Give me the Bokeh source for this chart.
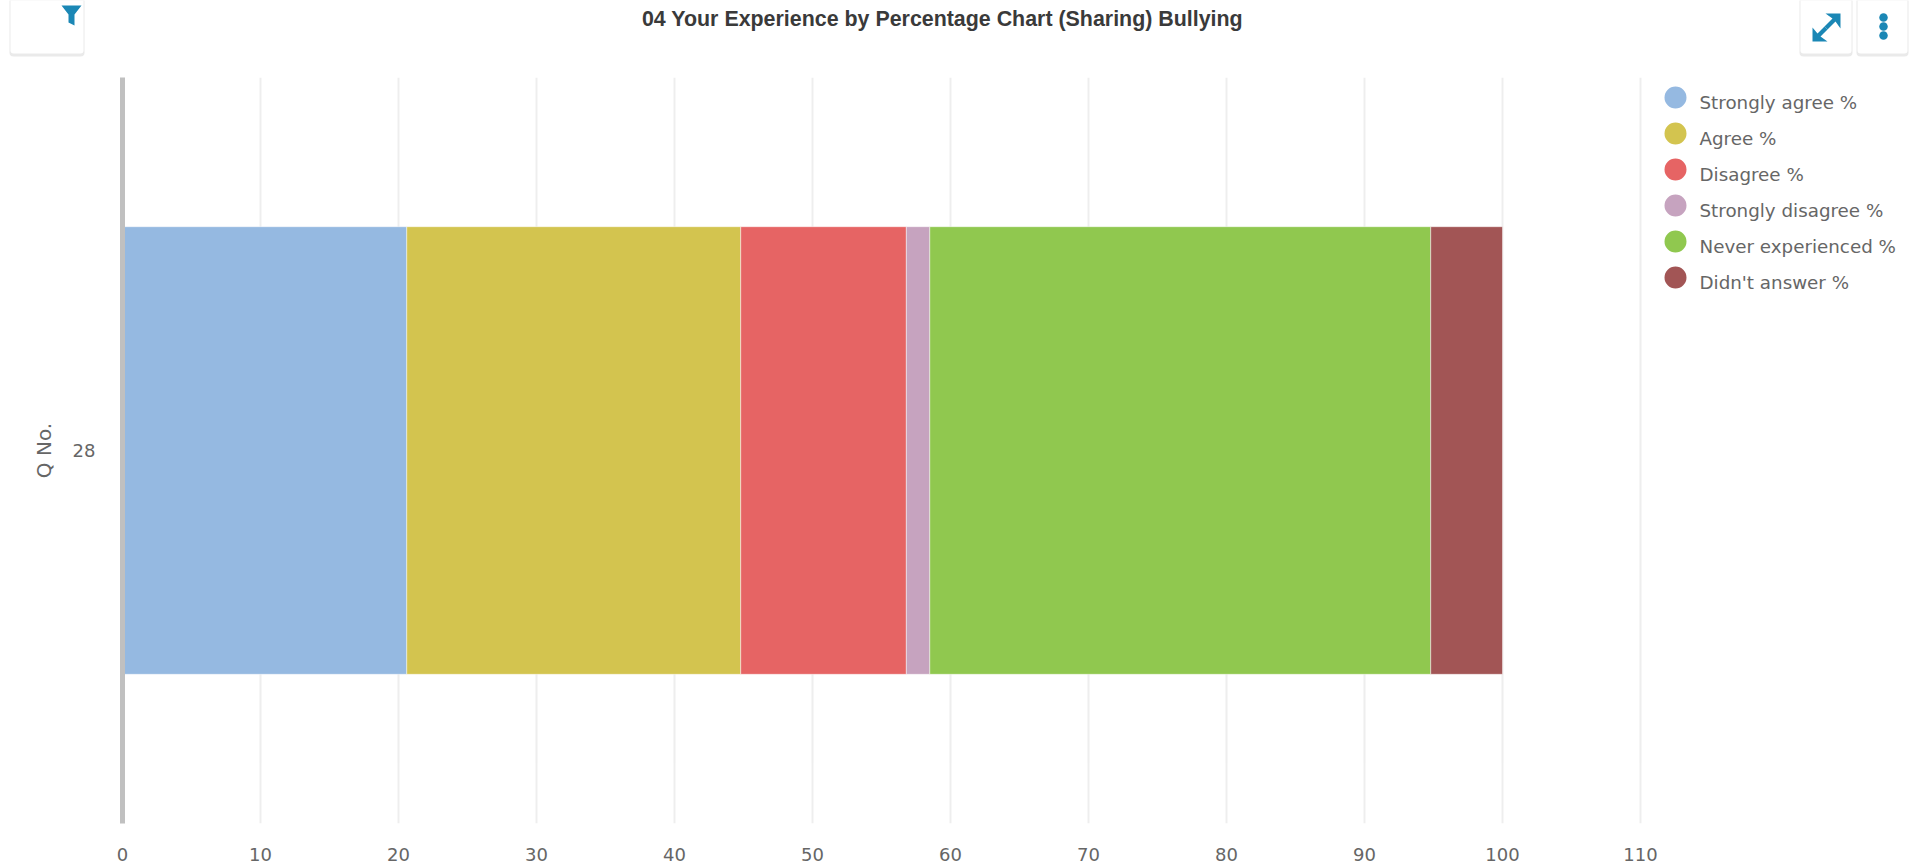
from bokeh.plotting import figure
from bokeh.layouts import column
from bokeh.models import ColumnDataSource, FactorRange, Range1d, FixedTicker
from bokeh.core.properties import value
from bokeh.embed import file_html
from bokeh.resources import INLINE

title_text = "04 Your Experience by Percentage Chart (Sharing) Bullying"
questions = ["28"]
series = ["Strongly agree %", "Agree %", "Disagree %", "Strongly disagree %", "Never experienced %", "Didn't answer %"]
strongly_agree = [20.6]
agree = [24.2]
disagree = [12.0]
strongly_disagree = [1.7]
never_experienced = [36.3]
didnt_answer = [5.2]
colors = ["#95B9E1", "#D3C44F", "#E66464", "#C6A3BF", "#90C84F", "#A25555"]
x_ticks = list(range(0, 111, 10))

TEXT = "#666666"
ICON = "#1B87B5"
FONT = "DejaVu Sans"
W, H = 1919, 865
LEFT, TOP, FW, FH = 122, 77, 1793, 746
PX = 13.8

# ---- header strip: title and the three small toolbar cards ----
head = figure(width=W, height=TOP, x_range=Range1d(0, W), y_range=Range1d(TOP, 0),
              x_axis_location=None, y_axis_location=None, output_backend="svg", toolbar_location=None,
              min_border=0, outline_line_color=None, frame_align=False)
head.grid.visible = False

head.text(x=[942], y=[18], text=[title_text], text_font=value("Liberation Sans"), text_font_size="21.4px",
          text_font_style="bold", text_color="#3A3A3A", text_align="center", text_baseline="middle")

card_left = [10, 1800, 1857]
card_right = [83, 1851, 1907]
head.quad(left=[v - 1 for v in card_left], right=[v + 1 for v in card_right], top=[-6] * 3, bottom=[56] * 3,
          fill_color="#D8D8D8", fill_alpha=0.55, line_color=None, border_radius=4)
head.quad(left=card_left, right=card_right, top=[-6] * 3, bottom=[53] * 3,
          fill_color="white", line_color=None, border_radius=3)

head.patch([61, 81, 74, 74, 68, 68], [5, 5, 14, 25, 22, 14], fill_color=ICON, line_color=None)
head.patch([1825, 1840, 1840, 1835, 1827, 1824, 1832], [13, 13, 28, 21, 29, 26, 18], fill_color=ICON, line_color=None)
head.patch([1812, 1812, 1817, 1824, 1827, 1820, 1827], [41, 27, 33, 26, 29, 36, 41], fill_color=ICON, line_color=None)
head.scatter(x=[1883] * 3, y=[17, 26, 35], size=8.5, color=ICON, line_color=None)

# ---- chart ----
data = dict(q=questions)
for name, vals in zip(series, [strongly_agree, agree, disagree, strongly_disagree, never_experienced, didnt_answer]):
    data[name] = vals
source = ColumnDataSource(data)

p = figure(frame_width=FW, frame_height=FH, y_range=FactorRange(factors=questions),
           x_range=Range1d(0, FW / PX), output_backend="svg", toolbar_location=None,
           min_border_left=LEFT, min_border_top=0, min_border_right=W - LEFT - FW,
           min_border_bottom=H - TOP - FH, outline_line_color=None, background_fill_color="white",
           frame_align=False)

p.hbar_stack(series, y="q", height=0.6, source=source, color=colors, line_color="white",
             line_alpha=0.45, line_width=1)

p.xgrid.ticker = FixedTicker(ticks=x_ticks)
p.xgrid.grid_line_color = "#EEEEEE"
p.xgrid.grid_line_width = 2
p.ygrid.visible = False

ax = p.xaxis[0]
ax.ticker = FixedTicker(ticks=x_ticks)
ax.axis_line_color = None
ax.major_tick_line_color = None
ax.minor_tick_line_color = None
ax.major_label_text_font = FONT
ax.major_label_text_font_size = "18px"
ax.major_label_text_color = TEXT
ax.major_label_standoff = 18

ay = p.yaxis[0]
ay.axis_label = "Q No."
ay.axis_label_text_font = FONT
ay.axis_label_text_font_size = "20px"
ay.axis_label_text_font_style = "normal"
ay.axis_label_text_color = TEXT
ay.axis_label_standoff = 14
ay.axis_line_color = "#C0C0C0"
ay.axis_line_width = 5
ay.major_tick_line_color = None
ay.minor_tick_line_color = None
ay.major_label_text_font = FONT
ay.major_label_text_font_size = "18px"
ay.major_label_text_color = TEXT
ay.major_label_standoff = 21

# legend: marks placed on the factor range's 0..1 synthetic coordinates
ROW_Y0, ROW_H = 97, 36
leg_y = [1 - (ROW_Y0 + ROW_H * i - TOP) / FH for i in range(len(series))]
leg_x = [(1675 - LEFT) / PX] * len(series)
p.scatter(x=leg_x, y=leg_y, size=22, color=colors, line_color=None)
p.text(x=leg_x, y=leg_y, text=series, x_offset=24, y_offset=5,
       text_font=value(FONT), text_font_size="18.3px", text_color=TEXT,
       text_align="left", text_baseline="middle")

page = column(head, p, spacing=0, styles={"position": "absolute", "top": "0px", "left": "0px"})

open("out.html", "w").write(file_html(page, INLINE))
